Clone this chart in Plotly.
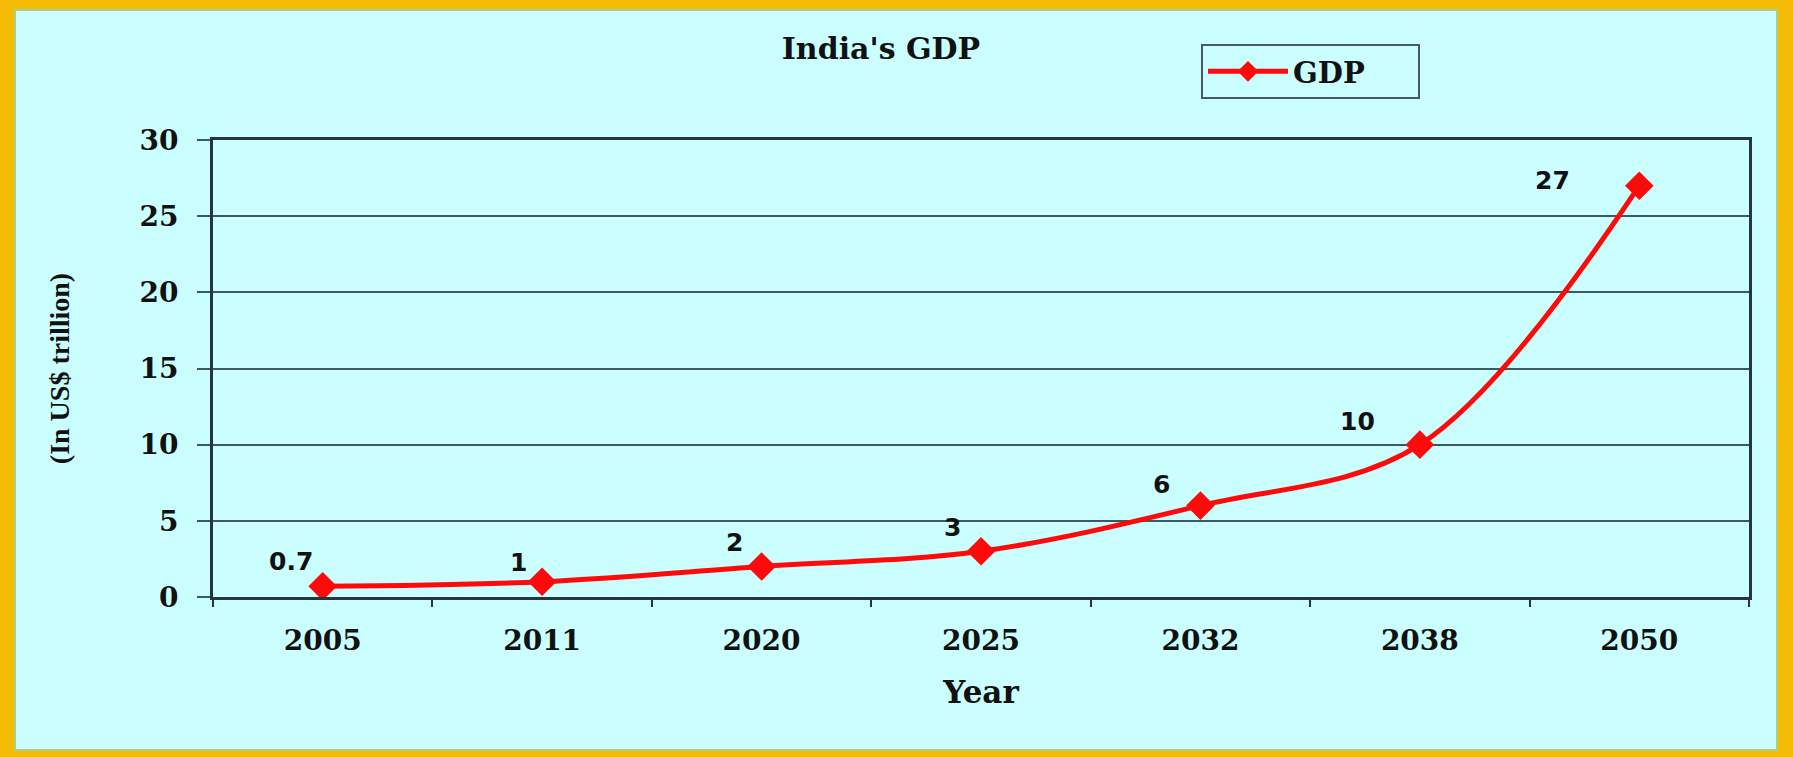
import plotly.graph_objects as go

years = ["2005", "2011", "2020", "2025", "2032", "2038", "2050"]
gdp = [0.7, 1, 2, 3, 6, 10, 27]
point_labels = ["0.7", "1", "2", "3", "6", "10", "27"]
label_dx = [-32, -24, -27, -29, -39, -62, -87]
label_dy = [25, 19, 24, 24, 21, 23, 5]

W, H = 1793, 757
L, R, T, B = 213, 1749, 140, 597
pw, ph = R - L, B - T

def px(x):
    return (x - L) / pw

def py(y):
    return (B - y) / ph

BG = "#CBFEFE"
GOLD = "#F5BC06"
GRID = "#3E5860"
AX = "#25363C"
SERIF = "DejaVu Serif"

fig = go.Figure()
fig.add_trace(go.Scatter(
    x=years, y=gdp, mode="lines+markers", name="GDP",
    line=dict(color="#FF0A0A", width=5, shape="spline", smoothing=1.0),
    marker=dict(symbol="diamond", size=22, color="#FF0A0A"),
))

annots = []
for i, (yv, t, dx, dy) in enumerate(zip(gdp, point_labels, label_dx, label_dy)):
    annots.append(dict(x=i, y=yv, xref="x", yref="y", text="<b>" + t + "</b>",
                       showarrow=False, xshift=dx, yshift=dy,
                       font=dict(family="DejaVu Sans", size=25, color="#111111")))

# outer gold frame with cyan panel
shapes = [dict(type="rect", xref="paper", yref="paper",
               x0=px(15), x1=px(1777), y0=py(750), y1=py(10),
               fillcolor=BG, line=dict(color="#A8CF8A", width=2), layer="below")]

fig.update_layout(
    width=W, height=H,
    margin=dict(l=L, r=W - R, t=T, b=H - B, autoexpand=False),
    paper_bgcolor=GOLD, plot_bgcolor=BG,
    annotations=annots, shapes=shapes,
    title=dict(text="<b>India's GDP</b>", x=px(881), xref="paper", xanchor="center",
               y=1 - 48 / H, yanchor="middle",
               font=dict(family=SERIF, size=30, color="#111")),
    showlegend=True,
    legend=dict(x=px(1201), y=py(44), xanchor="left", yanchor="top",
                orientation="h", entrywidth=120, entrywidthmode="pixels",
                itemwidth=80,
                bgcolor=BG, bordercolor="#4A5A60", borderwidth=2,
                font=dict(family=SERIF, size=29, color="#111", weight="bold")),
    xaxis=dict(type="category", range=[-0.5, 6.5], showgrid=False,
               showline=True, linecolor=AX, linewidth=3, mirror=True,
               ticks="outside", tickson="boundaries", ticklen=7, tickwidth=2, tickcolor=AX,
               ticklabelstandoff=16,
               tickfont=dict(family=SERIF, size=28, color="#111", weight="bold"),
               title=dict(text="<b>Year</b>", standoff=26,
                          font=dict(family=SERIF, size=31, color="#111"))),
    yaxis=dict(range=[0, 30], dtick=5, showgrid=True, gridcolor=GRID, gridwidth=2,
               showline=True, linecolor=AX, linewidth=3, mirror=True,
               ticks="outside", ticklen=13, tickwidth=2, tickcolor=GRID,
               ticklabelstandoff=13, zeroline=False,
               tickfont=dict(family=SERIF, size=28, color="#111", weight="bold"),
               title=dict(text="<b>(In US$ trillion)</b>", standoff=62,
                          font=dict(family="Liberation Serif", size=28, color="#111"))),
)

fig.write_html("out.html", config={"displayModeBar": False},
               post_script="document.body.style.margin='0';")
